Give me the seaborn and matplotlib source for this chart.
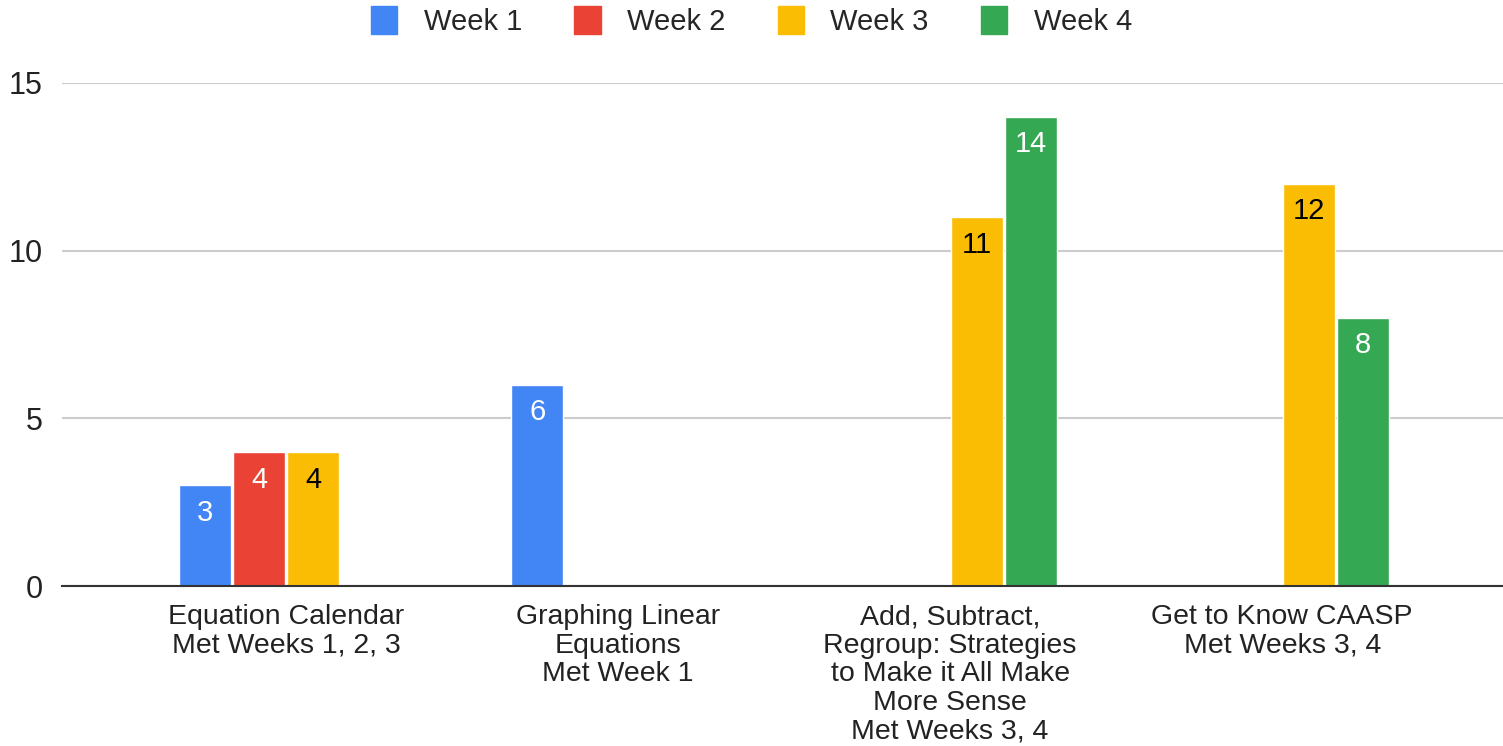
import numpy as np
import pandas as pd
import seaborn as sns
import matplotlib.pyplot as plt

categories = ["Equation Calendar\nMet Weeks 1, 2, 3",
              "Graphing Linear\nEquations\nMet Week 1",
              "Add, Subtract,\nRegroup: Strategies\nto Make it All Make\nMore Sense\nMet Weeks 3, 4",
              "Get to Know CAASP\nMet Weeks 3, 4"]
weeks = ["Week 1", "Week 2", "Week 3", "Week 4"]
week1 = [3, 6, None, None]
week2 = [4, None, None, None]
week3 = [4, None, 11, 12]
week4 = [None, None, 14, 8]
colors = ["#4285F4", "#EA4335", "#FBBC04", "#34A853"]
label_colors = ["white", "white", "black", "white"]

rows = []
for w, vals in zip(weeks, [week1, week2, week3, week4]):
    for c, v in zip(categories, vals):
        rows.append({"category": c, "week": w, "value": v})
df = pd.DataFrame(rows).dropna()

sns.set_style("white")
plt.rcParams['font.family'] = ['Liberation Sans', 'DejaVu Sans']

fig = plt.figure(figsize=(15.03, 7.46), dpi=100)
ax = fig.add_axes([62/1503, 160/746, 1 - 62/1503, (586-83)/746])

sns.barplot(data=df, x="category", y="value", hue="week", order=categories,
            hue_order=weeks, palette=colors, width=0.65, gap=0.04,
            saturation=1, legend=False, ax=ax)

for cont, col in zip(ax.containers, label_colors):
    ax.bar_label(cont, labels=[f"{int(b.get_height())}" for b in cont],
                 padding=-30, color=col, fontsize=21)

ax.set_xlim(-0.675, 3.665)
ax.set_ylim(0, 15)
ax.set_yticks([0, 5, 10, 15])
ax.yaxis.grid(True, color="#cccccc", linewidth=1.5)
ax.set_axisbelow(True)
for s in ["top", "right", "left"]:
    ax.spines[s].set_visible(False)
ax.spines["bottom"].set_color("#333333")
ax.spines["bottom"].set_linewidth(1.5)
ax.tick_params(axis="y", length=0, pad=14, labelsize=22, labelcolor="#222222")
ax.tick_params(axis="x", length=0, pad=13, labelsize=20.5, labelcolor="#222222")
for t in ax.get_xticklabels():
    t.set_linespacing(1.13)
ax.set_xlabel("")
ax.set_ylabel("")

handles = [plt.Rectangle((0, 0), 1, 1, color=c) for c in colors]
fig.legend(handles, weeks, loc="upper center", bbox_to_anchor=(0.5, 1.027),
           ncol=4, frameon=False, fontsize=21, handlelength=0.9,
           handleheight=1.1, columnspacing=1.8, handletextpad=0.9)

fig.savefig("out.png", dpi=100)
